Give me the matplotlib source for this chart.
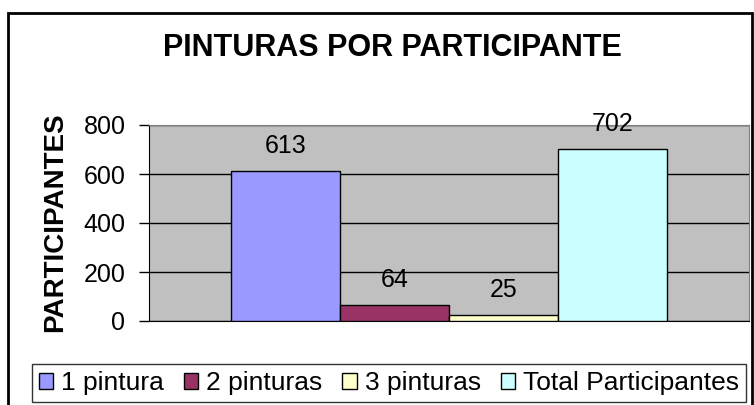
import matplotlib
matplotlib.use('Agg')
import matplotlib.pyplot as plt
from matplotlib.patches import Rectangle

# data
series = ['1 pintura', '2 pinturas', '3 pinturas', 'Total Participantes']
values = [613, 64, 25, 702]
colors = ['#9999FF', '#993366', '#FFFFCC', '#CCFFFF']
yticks = [0, 200, 400, 600, 800]

plt.rcParams['font.family'] = ['Liberation Sans', 'DejaVu Sans']

fig = plt.figure(figsize=(7.54, 4.05), dpi=100)
ax = fig.add_axes([149/754, 1-321/405, 600/754, 196/405])
ax.set_facecolor('#C0C0C0')

pos = [-1.5, -0.5, 0.5, 1.5]
for i in range(len(series)):
	ax.bar(pos[i], values[i], width=1.0, color=colors[i], edgecolor='black', linewidth=1.0, label=series[i], zorder=3)
	ax.annotate(str(values[i]), (pos[i], values[i]), xytext=(0, 18), textcoords='offset points',
		ha='center', va='center', fontsize=18, zorder=4, annotation_clip=False)

ax.set_xlim(-2.75, 2.75)
ax.set_ylim(0, 800)
ax.set_yticks(yticks)
ax.set_xticks([])
ax.tick_params(axis='y', labelsize=18, length=7, width=1, direction='out', pad=10)
ax.yaxis.grid(True, color='black', linewidth=1.0, zorder=1)
ax.set_axisbelow(True)
for s in ['top', 'right']:
	ax.spines[s].set_color('#808080')
for s in ['left', 'bottom']:
	ax.spines[s].set_color('black')

fig.text(55/754, 1-222/405, 'PARTICIPANTES', rotation=90, ha='center', va='center', fontsize=20, fontweight='bold')
fig.text(392/754, 1-48/405, 'PINTURAS POR PARTICIPANTE', ha='center', va='center', fontsize=22, fontweight='bold')

leg = fig.legend(loc='center', bbox_to_anchor=(389/754, 1-383/405), ncol=4, fontsize=19,
	frameon=True, fancybox=False, edgecolor='black', handlelength=0.55, handleheight=0.55,
	handletextpad=0.3, columnspacing=0.75, borderpad=0.25, borderaxespad=0)
leg.get_frame().set_linewidth(1.0)

# outer chart border
fig.patches.append(Rectangle((8/754, -0.05), 744/754, 1.05-13/405, transform=fig.transFigure,
	fill=False, edgecolor='black', linewidth=2))

fig.savefig('out.png', dpi=100)
